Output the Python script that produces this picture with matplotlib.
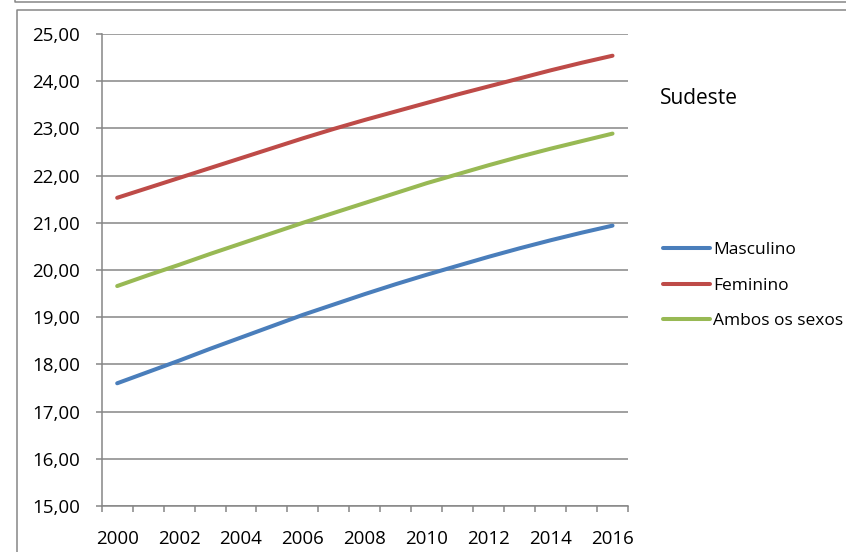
import numpy as np
from matplotlib import pyplot as plt
from matplotlib.lines import Line2D
from matplotlib.ticker import FuncFormatter, FixedLocator

plt.rcParams['font.family'] = ['Open Sans', 'DejaVu Sans']

anos = list(range(2000, 2017))
masculino = [17.60, 17.84, 18.08, 18.33, 18.57, 18.81, 19.05, 19.27, 19.49,
             19.70, 19.90, 20.09, 20.28, 20.46, 20.63, 20.79, 20.94]
feminino = [21.53, 21.74, 21.95, 22.16, 22.37, 22.58, 22.79, 22.99, 23.18,
            23.36, 23.54, 23.72, 23.89, 24.06, 24.23, 24.39, 24.54]
ambos = [19.66, 19.89, 20.11, 20.34, 20.56, 20.78, 21.00, 21.21, 21.42,
         21.63, 21.84, 22.03, 22.22, 22.40, 22.57, 22.73, 22.89]
series = [('Masculino', masculino, '#4A7EBB'),
          ('Feminino', feminino, '#BE4B48'),
          ('Ambos os sexos', ambos, '#98B954')]
titulo = 'Sudeste'

W, H = 846, 552
fig = plt.figure(figsize=(W / 100, H / 100), dpi=100)
ax = fig.add_axes([101.7 / W, 1 - 506 / H, 526.3 / W, 472 / H])

cinza = '#868686'
x = np.arange(len(anos))
for nome, vals, cor in series:
    ax.plot(x, vals, color=cor, lw=2.9, solid_capstyle='round', label=nome)

ax.set_xlim(-0.5, len(anos) - 0.5)
ax.set_ylim(15, 25)
ax.set_yticks(np.arange(15, 26, 1))
ax.yaxis.set_major_formatter(FuncFormatter(lambda v, p: f'{v:.2f}'.replace('.', ',')))
ax.grid(axis='y', color=cinza, lw=1.1)
ax.set_axisbelow(True)

# ticks on category boundaries, labels every two years
ax.xaxis.set_major_locator(FixedLocator(np.arange(-0.5, len(anos), 1)))
ax.xaxis.set_major_formatter(FuncFormatter(lambda v, p: ''))
ax.xaxis.set_minor_locator(FixedLocator(x[::2]))
ax.set_xticklabels([str(a) for a in anos[::2]], minor=True)
ax.tick_params(axis='x', which='major', length=4.5, color=cinza, width=1.1)
ax.tick_params(axis='x', which='minor', length=0, pad=17, labelsize=13.5)
ax.tick_params(axis='y', length=4.5, color=cinza, width=1.1, pad=11, labelsize=13.5)

for s in ['top', 'right']:
    ax.spines[s].set_visible(False)
for s in ['left', 'bottom']:
    ax.spines[s].set_color(cinza)
    ax.spines[s].set_linewidth(1.1)

ax.legend(loc='upper left', bbox_to_anchor=(663 / W, 1 - 242 / H),
          bbox_transform=fig.transFigure, frameon=False, fontsize=12.5,
          handlelength=2.7, handletextpad=0.2, labelspacing=1.12,
          borderaxespad=0, borderpad=0)
fig.text(660 / W, 1 - 98 / H, titulo, fontsize=15, va='center', ha='left')

# chart frames
def fline(xs, ys):
    fig.add_artist(Line2D([a / W for a in xs], [1 - b / H for b in ys],
                          color=cinza, lw=1.1))

fline([15, 15, W], [0, 2, 2])
fline([W, 17, 17], [10, 10, H])

fig.savefig('out.png', dpi=100)
